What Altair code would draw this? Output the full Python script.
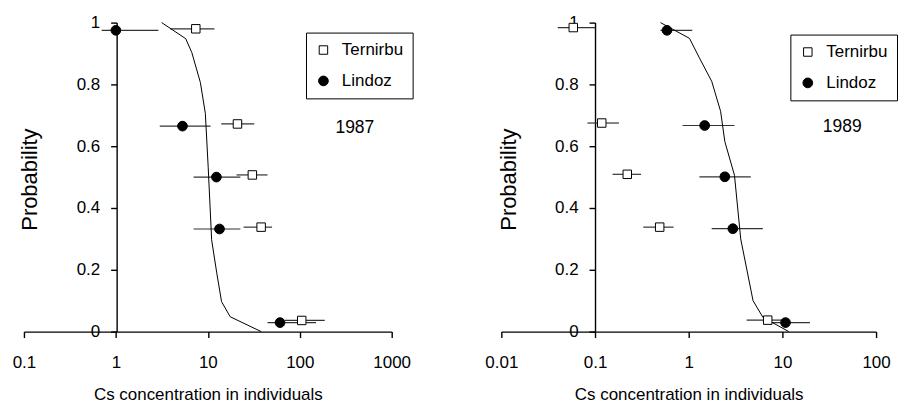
import altair as alt
import pandas as pd

FONT = "Liberation Sans, Arial, sans-serif"
series = ["Ternirbu", "Lindoz"]
y_ticks = [0, 0.2, 0.4, 0.6, 0.8, 1]

# ---- 1987 ----
t87_x = [7.4, 21, 30.5, 38, 105]
t87_lo = [3.9, 14, 20.5, 24.5, 69]
t87_hi = [11.8, 32, 44.6, 50, 187]
t87_y = [0.98, 0.672, 0.507, 0.338, 0.036]

l87_x = [1.0, 5.3, 12.4, 13.4, 61]
l87_lo = [0.7, 3.0, 7.0, 7.0, 44.6]
l87_hi = [2.9, 10.7, 22.6, 22.6, 150]
l87_y = [0.975, 0.665, 0.5, 0.332, 0.029]

c87_x = [3.15, 5.75, 6.7, 8.3, 9.4, 10.1, 11, 12.5, 14.1, 17.5, 38]
c87_y = [1.0, 0.948, 0.903, 0.806, 0.706, 0.53, 0.297, 0.19, 0.097, 0.048, 0.0]
x87_ticks = [0.1, 1, 10, 100, 1000]

# ---- 1989 ----
t89_x = [0.0586, 0.118, 0.221, 0.49, 6.97]
t89_lo = [0.040, 0.083, 0.154, 0.327, 4.15]
t89_hi = [0.1, 0.18, 0.31, 0.69, 10.8]
t89_y = [0.984, 0.675, 0.509, 0.338, 0.037]

l89_x = [0.586, 1.48, 2.43, 2.96, 10.8]
l89_lo = [0.5, 0.86, 1.3, 1.76, 7.0]
l89_hi = [1.09, 3.08, 4.6, 6.18, 19.7]
l89_y = [0.975, 0.667, 0.501, 0.333, 0.029]

c89_x = [0.5, 1.02, 1.3, 1.76, 2.19, 2.43, 3.08, 3.59, 4.86, 6.2, 11.7]
c89_y = [1.0, 0.949, 0.886, 0.81, 0.713, 0.615, 0.506, 0.3, 0.1, 0.046, 0.0]
x89_ticks = [0.01, 0.1, 1, 10, 100]


def panel(tx, tlo, thi, ty, lx, llo, lhi, ly, cx, cy, ticks, width, yoff,
          year, legx, legy, yearx, yeary):
    pts = pd.DataFrame({
        "series": ["Ternirbu"] * len(tx) + ["Lindoz"] * len(lx),
        "x": tx + lx, "lo": tlo + llo, "hi": thi + lhi, "y": ty + ly})
    curve = pd.DataFrame({"x": cx, "y": cy})
    height = 310
    xscale = alt.Scale(type="log", domain=[ticks[0], ticks[-1]], nice=False)
    yscale = alt.Scale(domain=[0, 1], nice=False)
    xaxis = alt.Axis(values=ticks, labelExpr="datum.value", grid=False,
                     labelFlush=False, labelFontSize=17,
                     title="Cs concentration in individuals", titleFontSize=17,
                     titleX=width / 2, titleY=63, titleBaseline="middle",
                     titleAlign="center", labelPadding=17)
    yaxis = alt.Axis(values=y_ticks, labelExpr="datum.value", grid=False,
                     labelFlush=False, labelFontSize=17,
                     offset=-yoff, title="Probability", titleFontSize=22,
                     titleX=-87, titleY=height / 2 + 2, titleAngle=270,
                     titleAlign="center", titleBaseline="middle", labelPadding=11)
    leg = alt.Legend(orient="none", legendX=legx, legendY=legy, title=None,
                     strokeColor="black", fillColor="white", padding=9,
                     labelFont=FONT, labelFontSize=17, labelColor="black",
                     labelOffset=10, rowPadding=13,
                     symbolStrokeColor="black", symbolStrokeWidth=1)
    rules = alt.Chart(pts).mark_rule(color="#333", strokeWidth=1.2).encode(
        x=alt.X("lo:Q", scale=xscale, axis=xaxis),
        x2="hi:Q",
        y=alt.Y("y:Q", scale=yscale, axis=yaxis))
    line = alt.Chart(curve).mark_line(color="black", strokeWidth=1).encode(
        x="x:Q", y="y:Q")
    points = alt.Chart(pts).mark_point(filled=True, strokeWidth=1, opacity=1).encode(
        x="x:Q", y="y:Q",
        shape=alt.Shape("series:N", scale=alt.Scale(domain=series, range=["square", "circle"]), legend=leg),
        fill=alt.Fill("series:N", scale=alt.Scale(domain=series, range=["white", "black"]), legend=leg),
        stroke=alt.Stroke("series:N", scale=alt.Scale(domain=series, range=["black", "black"]), legend=leg),
        size=alt.Size("series:N", scale=alt.Scale(domain=series, range=[72, 95]), legend=leg))
    text = alt.Chart(pd.DataFrame({"label": [year]})).mark_text(
        font=FONT, fontSize=17.5, color="black", align="center", baseline="middle").encode(
        text="label:N", x=alt.value(yearx), y=alt.value(yeary))
    return alt.layer(rules, line, points, text).properties(width=width, height=height)


left = panel(t87_x, t87_lo, t87_hi, t87_y, l87_x, l87_lo, l87_hi, l87_y,
             c87_x, c87_y, x87_ticks, 369, 93, "1987", 283, 10, 332, 106)
right = panel(t89_x, t89_lo, t89_hi, t89_y, l89_x, l89_lo, l89_hi, l89_y,
              c89_x, c89_y, x89_ticks, 376, 94, "1989", 290, 12, 342, 105)

chart = alt.hconcat(left, right, spacing=110, bounds="flush").resolve_scale(
    x="independent", y="independent", shape="independent",
    fill="independent", stroke="independent", size="independent").properties(
    padding={"left": 4, "top": 5, "right": 0, "bottom": 0}
).configure_view(stroke=None).configure_axis(
    labelFont=FONT, titleFont=FONT,
    titleFontWeight="normal", labelColor="black", titleColor="black",
    domainColor="black", tickColor="black", domainWidth=1.4, tickWidth=1.4,
    tickSize=6)

chart.save("out.html", embed_options={"renderer": "svg", "actions": False})
